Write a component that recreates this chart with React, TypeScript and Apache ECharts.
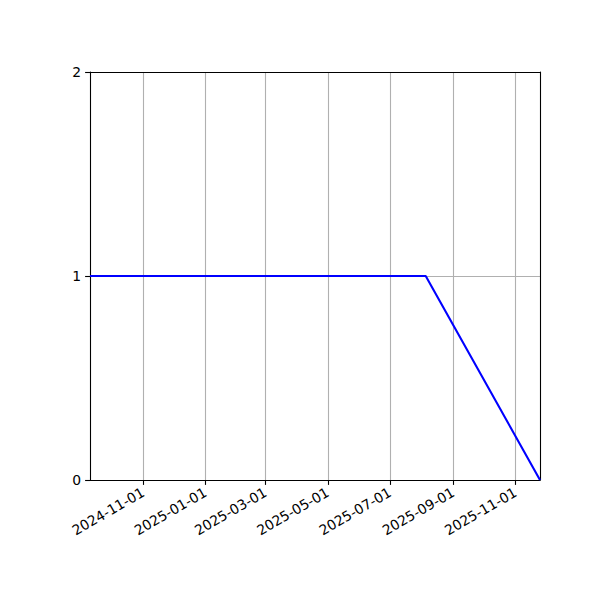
import * as echarts from 'echarts';
import React, { useEffect, useRef } from 'react';

// dates of the line's points and their values
const dates = ['2024-09-10', '2025-08-05', '2025-11-25'];
const values = [1, 1, 0];
const yTicks = [0, 1, 2];

const FONT = 'DejaVu Sans';

const App: React.FC = () => {
  const chartRef = useRef<HTMLDivElement>(null);

  useEffect(() => {
    const myChart = echarts.init(chartRef.current!, undefined, { renderer: 'svg' });

    const option = {
      animation: false,
      grid: {
        left: 90,
        right: 60,
        top: 72,
        bottom: 120,
        containLabel: false,
        outerBoundsMode: 'none',
      },
      xAxis: [
        {
          type: 'time',
          min: dates[0],
          max: dates[dates.length - 1],
          splitNumber: 5,
          axisLine: { show: true, onZero: false, lineStyle: { color: '#000', width: 1.1 } },
          axisTick: { show: true, length: 4.9, lineStyle: { color: '#000', width: 1.1 } },
          axisLabel: {
            rotate: 30,
            margin: 11,
            color: '#000',
            fontFamily: FONT,
            fontSize: 13.9,
            showMinLabel: false,
            showMaxLabel: false,
            // only the 1st of the month gets a label, in matplotlib's date style
            formatter: (value: number) => {
              const d = new Date(value);
              if (d.getDate() !== 1 || d.getHours() !== 0) return '';
              return echarts.time.format(value, '{yyyy}-{MM}-{dd}', false);
            },
          },
          splitLine: {
            show: true,
            showMinLine: false,
            showMaxLine: false,
            lineStyle: { color: '#b0b0b0', width: 1.1 },
          },
        },
        {
          // top spine
          type: 'time',
          position: 'top',
          min: dates[0],
          max: dates[dates.length - 1],
          axisLine: { show: true, onZero: false, lineStyle: { color: '#000', width: 1.1 } },
          axisTick: { show: false },
          axisLabel: { show: false },
          splitLine: { show: false },
        },
      ],
      yAxis: [
        {
          type: 'value',
          min: yTicks[0],
          max: yTicks[yTicks.length - 1],
          interval: 1,
          axisLine: { show: true, onZero: false, lineStyle: { color: '#000', width: 1.1 } },
          axisTick: { show: true, length: 4.9, lineStyle: { color: '#000', width: 1.1 } },
          axisLabel: {
            margin: 9,
            color: '#000',
            fontFamily: FONT,
            fontSize: 13.9,
          },
          splitLine: {
            show: true,
            showMinLine: false,
            showMaxLine: false,
            lineStyle: { color: '#b0b0b0', width: 1.1 },
          },
        },
        {
          // right spine
          type: 'value',
          position: 'right',
          min: yTicks[0],
          max: yTicks[yTicks.length - 1],
          interval: 1,
          axisLine: { show: true, onZero: false, lineStyle: { color: '#000', width: 1.1 } },
          axisTick: { show: false },
          axisLabel: { show: false },
          splitLine: { show: false },
        },
      ],
      series: [
        {
          type: 'line',
          data: dates.map((d, i) => [d, values[i]]),
          showSymbol: false,
          lineStyle: { color: '#0000ff', width: 2.1 },
          z: 5,
        },
      ],
    };

    myChart.setOption(option);

    return () => {
      myChart.dispose();
    };
  }, []);

  return (
    <div
      ref={chartRef}
      style={{ position: 'fixed', left: 0, top: 0, width: '600px', height: '600px', background: '#fff' }}
    />
  );
};

export default App;
